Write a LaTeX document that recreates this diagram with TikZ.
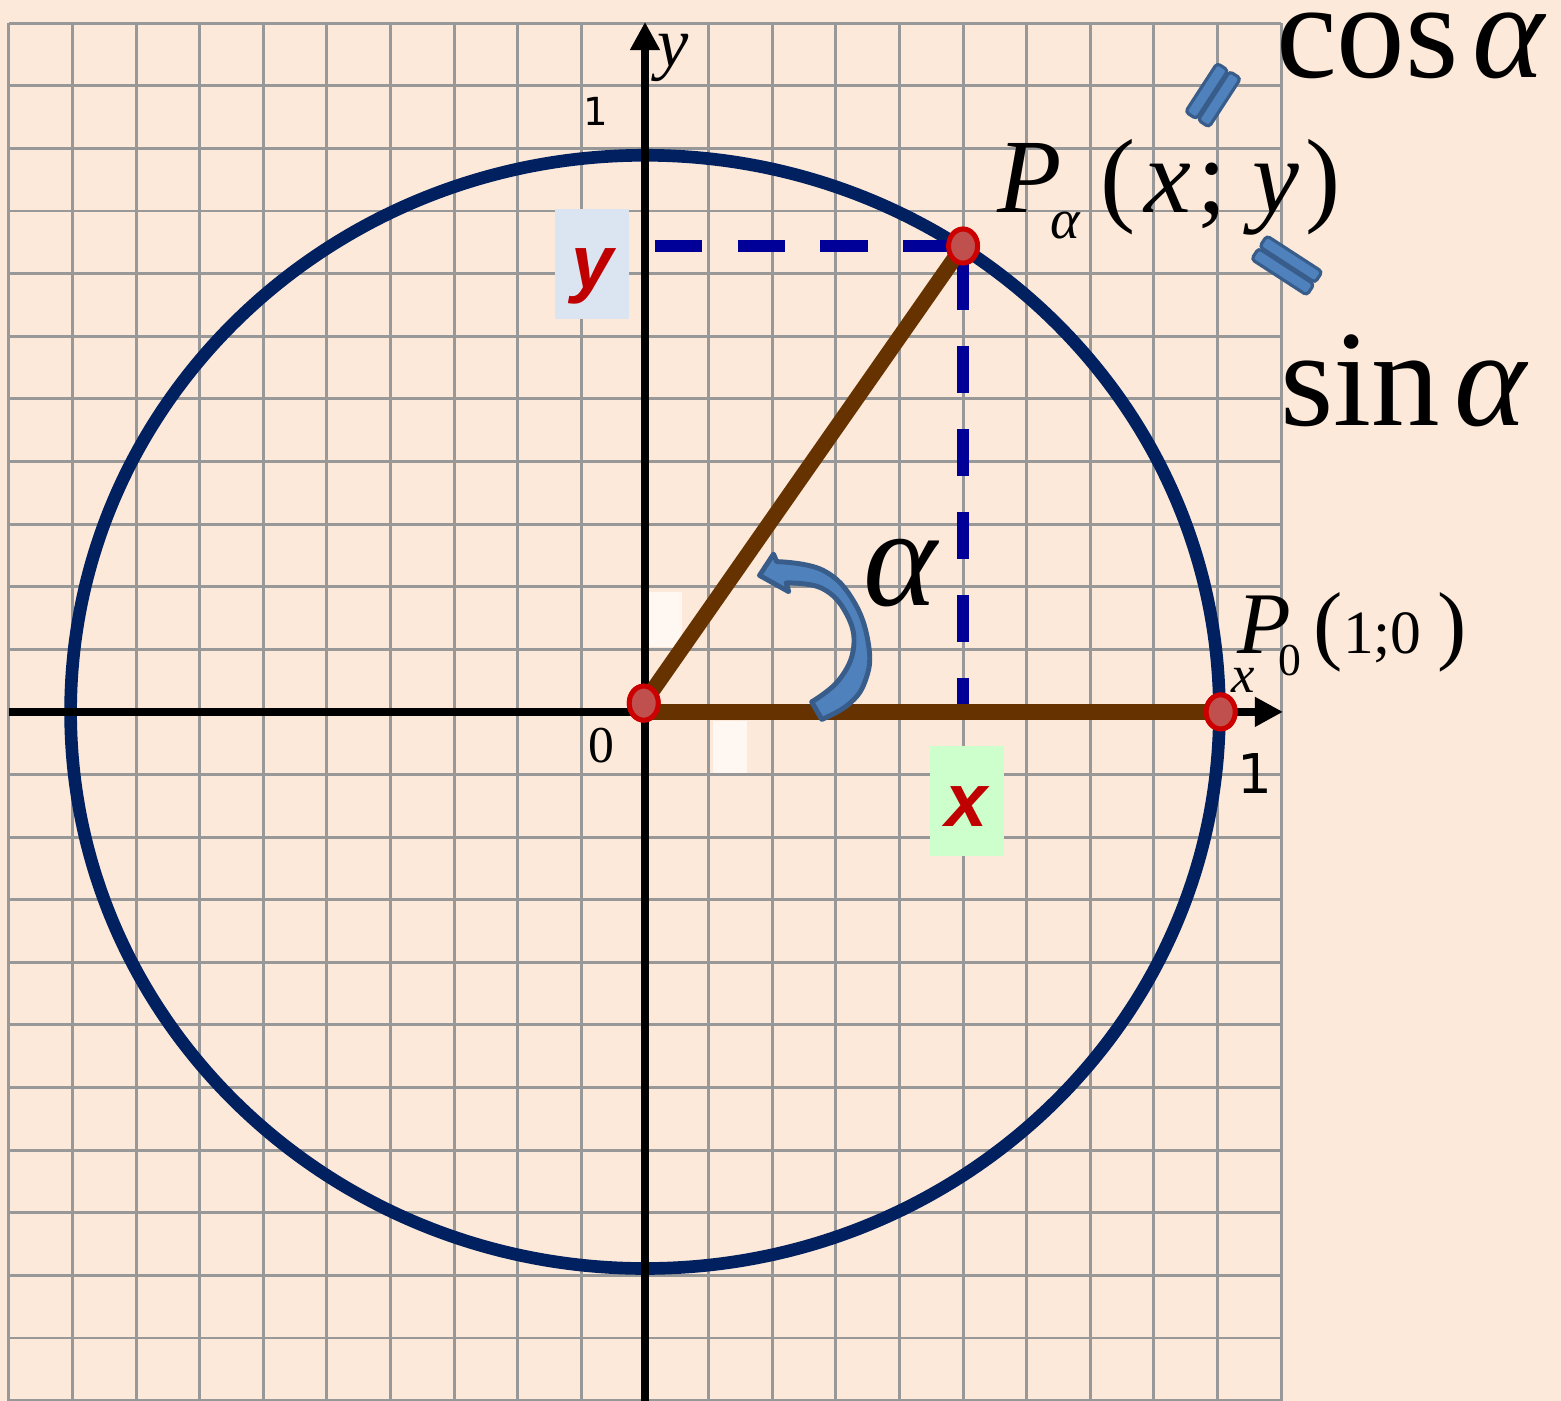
\documentclass[tikz,border=0pt]{standalone}
\usepackage{fontspec}
\setmainfont{Liberation Serif}
\newfontfamily\numfont{DejaVu Sans}
\newfontfamily\boldsans{Liberation Sans}
\usetikzlibrary{shapes.geometric, arrows.meta, positioning, calc}
\definecolor{paper}{RGB}{252,233,217}
\definecolor{gridgray}{RGB}{152,152,152}
\definecolor{circblue}{RGB}{0,32,96}
\definecolor{radbrown}{RGB}{102,51,0}
\definecolor{dashblue}{RGB}{0,0,153}
\definecolor{dotred}{RGB}{192,80,77}
\definecolor{dotrim}{RGB}{204,0,0}
\definecolor{labred}{RGB}{192,0,0}
\definecolor{yboxbg}{RGB}{219,229,241}
\definecolor{xboxbg}{RGB}{204,255,204}
\definecolor{arrfill}{RGB}{79,129,189}
\definecolor{arrrim}{RGB}{56,93,138}

\begin{document}
\begin{tikzpicture}[x=0.636cm, y=0.626cm,
    gridln/.style={gridgray, line width=0.85pt},
    axisln/.style={black, line width=2.2pt, -{Triangle[length=8pt, width=8pt]}},
    unitcirc/.style={circblue, line width=3.6pt},
    radline/.style={radbrown, line width=4.4pt},
    projln/.style={dashblue, line width=3.4pt, dash pattern=on 13.4pt off 10.2pt},
    ptdot/.style={ellipse, fill=dotred, draw=dotrim, line width=1.4pt,
      minimum width=0.29cm, minimum height=0.34cm, inner sep=0pt},
    valbox/.style={rectangle, minimum width=0.74cm, minimum height=1.1cm,
      inner sep=0pt, text height=17pt, text depth=3pt, text=labred,
      font=\boldsans\bfseries\itshape\fontsize{21.5}{22}\selectfont},
    eqbar/.style={rectangle, fill=arrfill, draw=arrrim, line width=0.9pt,
      rounded corners=1pt, minimum height=0.13cm, inner sep=0pt},
    bigtxt/.style={anchor=base west, inner sep=0pt, font=\fontsize{39}{39}\selectfont}
  ]
  \useasboundingbox (-10.14,-11) rectangle (14.40,11.37);
  \fill[paper] (-10.14,-11) rectangle (14.40,11.37);

  % grid
  \foreach \i in {-10,...,10}
    \draw[gridln] (\i,-11) -- (\i,11);
  \foreach \j in {-11,...,11}
    \draw[gridln] (-10,\j) -- (10,\j);
  \fill[white!65!paper] (0.03,1.03) rectangle (0.58,1.91);
  \fill[white!65!paper] (1.07,-0.14) rectangle (1.60,-0.98);

  % value boxes
  \node[valbox, fill=yboxbg] (ybox) at (-0.83,7.15) {y};
  \node[valbox, fill=xboxbg] (xbox) at (5.06,-1.43) {x};

  % circle and axes
  \draw[unitcirc] (0,0) ellipse [x radius=9.03, y radius=8.89];
  \draw[axisln] (-10,0) -- (10.03,0);
  \draw[axisln] (0,-11) -- (0,11.02);

  \node[ptdot] (O) at (-0.02,0.14) {};
  \node[ptdot] (Pa) at (5.0,7.44) {};
  \node[ptdot] (P0) at (9.05,0) {};
  \coordinate (ystart) at (0.15,7.44);

  % projections
  \draw[projln] (ystart) -- (Pa.center);
  \draw[projln, dash phase=18.8pt] (Pa.center) -- (Pa |- P0);

  % radii
  \draw[radline] (O.center) -- (Pa.center);
  \draw[radline] (O |- P0) -- (P0.center);

  % angle arrow
  \filldraw[fill=arrfill, draw=arrrim, line width=1.4pt, line join=round]
    (1.80,2.18) -- (2.02,2.52)
    -- plot[smooth, tension=0.7] coordinates {(2.07,2.40) (2.80,2.26) (3.29,1.75)
         (3.52,1.03) (3.46,0.49) (3.20,0.12) (2.78,-0.12)}
    -- plot[smooth, tension=0.7] coordinates {(2.62,0.16) (3.05,0.51) (3.28,1.03)
         (3.17,1.56) (2.79,1.97) (2.22,2.06)}
    -- (2.26,1.92) -- cycle;

  % redraw points on top
  \node[ptdot] at (O) {};
  \node[ptdot] at (Pa) {};
  \node[ptdot] at (P0) {};

  % labels
  \node[anchor=base west, inner sep=0pt, font=\fontsize{20}{20}\selectfont\itshape] (ylab) at (0.18,10.30) {y};
  \node[inner sep=0pt, font=\fontsize{15}{15}\selectfont\itshape] (xlab) at (9.40,0.50) {x};
  \node[inner sep=0pt, font=\fontsize{14.7}{15}\selectfont] (zero) at (-0.68,-0.53) {0};
  \node[inner sep=0pt, font=\numfont\fontsize{11}{11}\selectfont] (oney) at (-0.77,9.59) {1};
  \node[inner sep=0pt, font=\numfont\fontsize{15.6}{16}\selectfont] (onex) at (9.59,-0.98) {1};
  \node[bigtxt, font=\fontsize{40}{40}\selectfont] (alph) at (3.43,1.70) {\textit{α}};

  \node[anchor=base west, inner sep=0pt, font=\fontsize{30}{30}\selectfont] (Palab) at (5.53,7.98)
    {\textit{P}\kern-0.11em\raisebox{-0.25em}{\fontsize{16}{16}\selectfont\textit{α}}\kern0.19em(\kern0.08em\textit{x}\kern0.06em;\kern0.24em\textit{y}\kern0.06em)};
  \node[anchor=base west, inner sep=0pt, font=\fontsize{25}{25}\selectfont] (P0lab) at (9.30,0.93)
    {\textit{P}\kern-0.14em\raisebox{-0.25em}{\fontsize{13}{13}\selectfont 0}\kern0.14em(\fontsize{17.5}{17.5}\selectfont 1;0\kern0.25em\fontsize{25}{25}\selectfont)};

  \node[bigtxt] (cosl) at (9.91,10.14) {cos\kern0.1em\textit{α}};
  \node[bigtxt] (sinl) at (9.98,4.58) {sin\kern0.1em\textit{α}};

  % equal signs
  \foreach \cx/\cy/\ang/\len/\nm in {8.93/9.85/57/0.58cm/cos, 10.09/7.13/-33/0.66cm/sin} {
    \node[eqbar, minimum width=\len, rotate=\ang] (\nm bara) at ($(\cx,\cy)+(\ang+90:0.075cm)$) {};
    \node[eqbar, minimum width=\len, rotate=\ang] (\nm barb) at ($(\cx,\cy)+(\ang-90:0.075cm)$) {};
  }
\end{tikzpicture}
\end{document}
